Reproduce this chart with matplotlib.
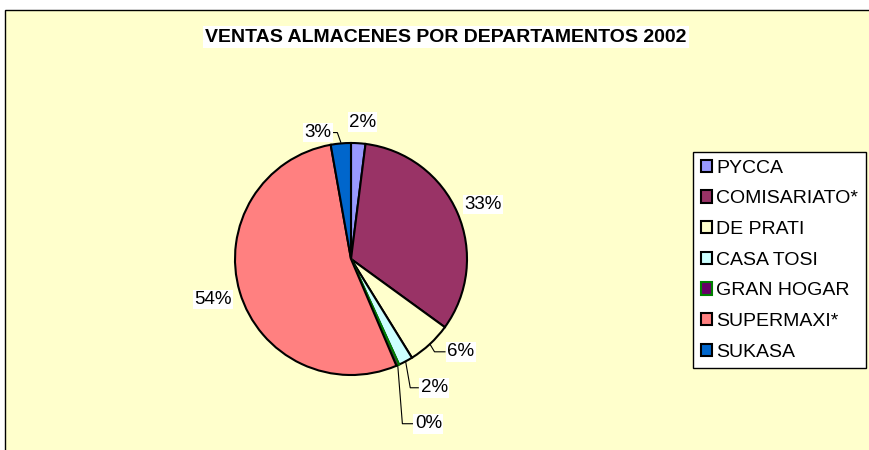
import numpy as np
import matplotlib
matplotlib.use("Agg")
import matplotlib.pyplot as plt
from matplotlib.patches import Rectangle

plt.rcParams["font.family"] = ["Liberation Sans", "DejaVu Sans"]

# Datos
almacenes = ["PYCCA", "COMISARIATO*", "DE PRATI", "CASA TOSI",
             "GRAN HOGAR", "SUPERMAXI*", "SUKASA"]
ventas_pct = [2.0, 33.0, 6.2, 2.0, 0.4, 53.6, 2.8]
colores = ["#9999FF", "#993366", "#FFFFCC", "#CCFFFF",
           "#660066", "#FF8080", "#0066CC"]
bordes = ["black", "black", "black", "black", "#008000", "black", "black"]

fig = plt.figure(figsize=(8.7, 4.5), dpi=100)
fig.patch.set_facecolor("white")

# Area del grafico (fondo amarillo con borde)
fig.patches.append(Rectangle((5 / 870, -0.1), 1.1, 0.1 + 1 - 10 / 450,
                             transform=fig.transFigure, facecolor="#FFFFCC",
                             edgecolor="black", linewidth=1, zorder=-5))

fig.text(446 / 870, 1 - 37 / 450, "VENTAS ALMACENES POR DEPARTAMENTOS 2002",
         ha="center", va="center", fontsize=14, fontweight="bold",
         bbox=dict(facecolor="white", edgecolor="none", pad=2))

# Pie
cx, cy, r = 351, 259, 116
ax = fig.add_axes([(cx - r) / 870, (450 - cy - r) / 450, 2 * r / 870, 2 * r / 450])

wedges, _ = ax.pie(ventas_pct, colors=colores, startangle=90, counterclock=False,
                   wedgeprops=dict(linewidth=1.5))
for w, ec in zip(wedges, bordes):
    w.set_edgecolor(ec)
ax.set_xlim(-1, 1)
ax.set_ylim(-1, 1)
ax.axis("off")

total = sum(ventas_pct)
# posicion de etiquetas (x, y) en unidades del radio, y si llevan linea guia
label_pos = [(0.10, 1.18), (1.14, 0.47), (0.83, -0.80), (0.60, -1.11),
             (0.55, -1.42), (-1.19, -0.35), (-0.17, 1.09)]
guia = [False, False, True, True, True, False, True]

for w, v, (tx, ty), g in zip(wedges, ventas_pct, label_pos, guia):
    txt = f"{100 * v / total:.0f}%"
    ang = np.deg2rad((w.theta1 + w.theta2) / 2)
    ex, ey = np.cos(ang), np.sin(ang)
    if g:
        if tx > 0:
            ha = "left"
            x_end = tx - 0.02
            x_elb = ex + 0.04
            ax.plot([ex, x_elb, x_end], [ey, ty, ty], color="black", lw=0.8,
                    clip_on=False)
        else:
            ha = "right"
            x_end = tx + 0.02
            ax.plot([ex, ex - 0.03, x_end], [ey + 0.01, ty, ty], color="black",
                    lw=0.8, clip_on=False)
    else:
        ha = "center"
    ax.text(tx, ty, txt, ha=ha, va="center", fontsize=13.5,
            bbox=dict(facecolor="white", edgecolor="none", pad=1))

leg = fig.legend(wedges, almacenes, loc="upper left",
                 bbox_to_anchor=(693 / 870, 1 - 152 / 450), fontsize=14,
                 frameon=True, fancybox=False, framealpha=1,
                 handlelength=0.6, handleheight=0.6, handletextpad=0.2,
                 labelspacing=0.7, borderpad=0.4, borderaxespad=0)
leg.get_frame().set_edgecolor("black")
leg.get_frame().set_linewidth(1)

fig.savefig("out.png", dpi=100)
